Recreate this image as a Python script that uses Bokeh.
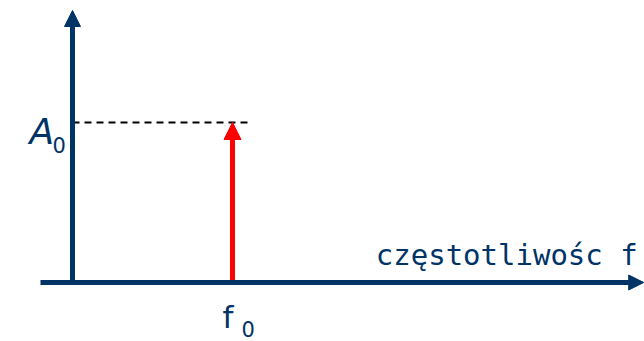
from bokeh.plotting import figure
from bokeh.models import Arrow, NormalHead, Label, Range1d
from bokeh.embed import file_html
from bokeh.resources import INLINE

# Data (arbitrary units): one spectral line at frequency f0 with amplitude A0
f0 = [1.0]
A0 = [1.0]
x_axis_span = [-0.2, 3.57]   # horizontal axis extent
y_axis_span = [0.0, 1.7]     # vertical axis extent
x_label = "częstotliwośc f"

NAVY = "#003366"
RED = "#ff0000"
FONT = "DejaVu Sans"

p = figure(width=644, height=341, output_backend="svg", toolbar_location=None,
           x_range=Range1d(-0.45, 3.575), y_range=Range1d(-0.36875, 1.7625),
           min_border=0)
p.axis.visible = False
p.grid.visible = False
p.outline_line_color = None
p.background_fill_color = "white"

# dashed level line at A0
p.line(x=[0, f0[0] + 0.1], y=[A0[0], A0[0]], line_color="black",
       line_width=2, line_dash="7 5")

# red spectral line (arrow)
p.add_layout(Arrow(x_start=f0[0], y_start=0, x_end=f0[0], y_end=A0[0],
                   line_color=RED, line_width=5,
                   end=NormalHead(size=17, fill_color=RED, line_color=RED, line_width=1)))

# axes as arrows
p.add_layout(Arrow(x_start=x_axis_span[0], y_start=0, x_end=x_axis_span[1], y_end=0,
                   line_color=NAVY, line_width=5,
                   end=NormalHead(size=15, fill_color=NAVY, line_color=NAVY, line_width=1)))
p.add_layout(Arrow(x_start=0, y_start=y_axis_span[0], x_end=0, y_end=y_axis_span[1],
                   line_color=NAVY, line_width=5,
                   end=NormalHead(size=16, fill_color=NAVY, line_color=NAVY, line_width=1)))

# labels
p.add_layout(Label(x=x_axis_span[1], y=0, text=x_label, text_align="right",
                   text_baseline="alphabetic", x_offset=-6, y_offset=28,
                   text_font="DejaVu Sans Mono",
                   text_font_size="29px", text_color=NAVY))
p.add_layout(Label(x=0, y=A0[0], text="A", text_align="left",
                   text_baseline="alphabetic", x_offset=-43, y_offset=-9,
                   text_font=FONT, text_font_style="italic",
                   text_font_size="36px", text_color=NAVY))
p.add_layout(Label(x=0, y=A0[0], text="0", text_align="left",
                   text_baseline="alphabetic", x_offset=-20, y_offset=-22,
                   text_font=FONT, text_font_size="21px", text_color=NAVY))
p.add_layout(Label(x=f0[0], y=0, text="f", text_align="left",
                   text_baseline="alphabetic", x_offset=-10, y_offset=-34,
                   text_font=FONT, text_font_size="31px", text_color=NAVY))
p.add_layout(Label(x=f0[0], y=0, text="0", text_align="left",
                   text_baseline="alphabetic", x_offset=9, y_offset=-46,
                   text_font=FONT, text_font_size="21px", text_color=NAVY))

open("out.html", "w").write(file_html(p, INLINE))
